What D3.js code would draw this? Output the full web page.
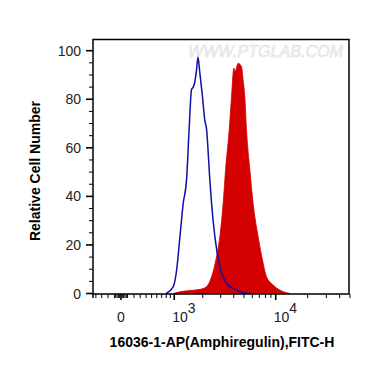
<!DOCTYPE html>
<html>
<head>
<meta charset="utf-8">
<script src="https://cdn.jsdelivr.net/npm/d3@7"></script>
<style>
  html, body { margin: 0; padding: 0; background: #fff; }
  svg { display: block; }
  text { font-family: "Liberation Sans", Arial, sans-serif; }
</style>
</head>
<body>
<svg id="chart" width="370" height="367"></svg>
<script>
// ---- data (fluorescence intensity, relative cell number) ----
const controlIntensity = [800, 975, 1065, 1156, 1256, 1366, 1450, 1539, 1600, 1661, 1730, 1792, 1872, 1988, 2093, 2177, 2350, 2445, 2632, 2940, 3414, 4254, 5693];
const controlCount     = [0,   2.8, 9.7,  23,   37,   47,   67,   84,   85,   87,   92,   97.3, 90.7, 81,   71.5, 68,   46.8, 37,   23.4, 11,   4.2,  1.4,  0];

const sampleIntensity = [975, 1156, 1480, 1872, 2177, 2445, 2690, 2940, 3166, 3340, 3620, 3810, 4010, 4125, 4250, 4400, 4745, 4912, 5097, 5290, 5693, 6120, 6820, 7500, 8190, 9450, 10930, 13560];
const sampleCount     = [0,   0.7,  1.2,  1.7,  2.8,  6.9,  13.8, 23.4, 37.2, 51,   67.4, 81,   92.8, 91.4, 93,   94.8, 93.4, 88,   81,   67.4, 51,   37,   23.4, 13.8, 6.9,  3.5,  1.4,   0];

const yTickValues = [0, 20, 40, 60, 80, 100];
const xMajorTicks = [0, 1000, 10000];
const xMajorLabels = [["0", ""], ["10", "3"], ["10", "4"]];
const xMinorTicks = [-400, -300, -200, -100, -80, -60, -40, -20, 20, 40, 60, 80,
  100, 200, 300, 400, 500, 600, 700, 800, 900,
  2000, 3000, 4000, 5000, 6000, 7000, 8000, 9000,
  20000, 30000, 40000, 50000];
const xTitle = "16036-1-AP(Amphiregulin),FITC-H";
const yTitle = "Relative Cell Number";
const watermark = "WWW.PTGLAB.COM";

// ---- layout ----
const svg = d3.select("#chart");
const L = 93, R = 349, T = 39.5, B = 294;
const W = 700; // arcsinh cofactor (biexponential display)

const xT = d3.scaleLinear()
  .domain([Math.asinh(-451 / W), Math.asinh(49000 / W)])
  .range([L, R]);
const x = v => xT(Math.asinh(v / W));
const y = d3.scaleLinear().domain([0, 100]).range([293.5, 50.7]);

// watermark
svg.append("text")
  .attr("x", 188).attr("y", 57)
  .attr("font-size", 16).attr("font-style", "italic")
  .attr("fill", "#f4f4f4").attr("stroke", "#dadada").attr("stroke-width", 0.5)
  .attr("textLength", 155)
  .text(watermark);

// sample (filled red)
const sample = sampleIntensity.map((v, i) => [v, sampleCount[i]]);
const area = d3.area()
  .x(d => x(d[0])).y0(y(0)).y1(d => y(d[1]))
  .curve(d3.curveMonotoneX);
svg.append("path").datum(sample)
  .attr("d", area)
  .attr("fill", "#d40000").attr("stroke", "#d40000").attr("stroke-width", 0.8);

// control (blue line)
const control = controlIntensity.map((v, i) => [v, controlCount[i]]);
const line = d3.line()
  .x(d => x(d[0])).y(d => y(d[1]))
  .curve(d3.curveMonotoneX);
svg.append("path").datum(control)
  .attr("d", line)
  .attr("fill", "none").attr("stroke", "#1010a8").attr("stroke-width", 1.5);

// frame
svg.append("rect")
  .attr("x", L).attr("y", T).attr("width", R - L).attr("height", B - T)
  .attr("fill", "none").attr("stroke", "#000").attr("stroke-width", 1.5);
svg.append("line").attr("x1", L).attr("x2", L).attr("y1", B).attr("y2", B + 4)
  .attr("stroke", "#000").attr("stroke-width", 1.5);

// y ticks
const yMinor = d3.range(0, 101, 5);
svg.append("g").selectAll("line").data(yMinor).join("line")
  .attr("x1", d => (d % 20 === 0 ? L - 7 : L - 4)).attr("x2", L)
  .attr("y1", d => y(d)).attr("y2", d => y(d))
  .attr("stroke", "#000").attr("stroke-width", d => (d % 20 === 0 ? 1.6 : 1));
svg.append("g").selectAll("text").data(yTickValues).join("text")
  .attr("x", 81).attr("y", d => y(d) + 5)
  .attr("text-anchor", "end").attr("font-size", 14).attr("fill", "#222")
  .text(d => d);

// x ticks
svg.append("g").selectAll("line").data(xMinorTicks).join("line")
  .attr("x1", d => x(d)).attr("x2", d => x(d))
  .attr("y1", B).attr("y2", B + 4)
  .attr("stroke", "#000").attr("stroke-width", 1);
svg.append("g").selectAll("line").data(xMajorTicks).join("line")
  .attr("x1", d => x(d)).attr("x2", d => x(d))
  .attr("y1", B).attr("y2", B + 6)
  .attr("stroke", "#000").attr("stroke-width", 1.6);
const xl = svg.append("g").selectAll("text").data(xMajorTicks).join("text")
  .attr("x", (d, i) => (i === 0 ? x(d) : x(d) - 2))
  .attr("y", 322)
  .attr("text-anchor", (d, i) => (i === 0 ? "middle" : "start"))
  .attr("font-size", 14).attr("fill", "#222");
xl.append("tspan").text((d, i) => xMajorLabels[i][0]);
xl.append("tspan").attr("dy", -9).attr("font-size", 14).text((d, i) => xMajorLabels[i][1]);

// titles
svg.append("text")
  .attr("x", 222).attr("y", 347)
  .attr("text-anchor", "middle").attr("font-size", 14).attr("font-weight", "bold")
  .attr("fill", "#000")
  .text(xTitle);
svg.append("text")
  .attr("transform", "translate(40,171) rotate(-90)")
  .attr("text-anchor", "middle").attr("font-size", 14).attr("font-weight", "bold")
  .attr("fill", "#000")
  .text(yTitle);
</script>
</body>
</html>
